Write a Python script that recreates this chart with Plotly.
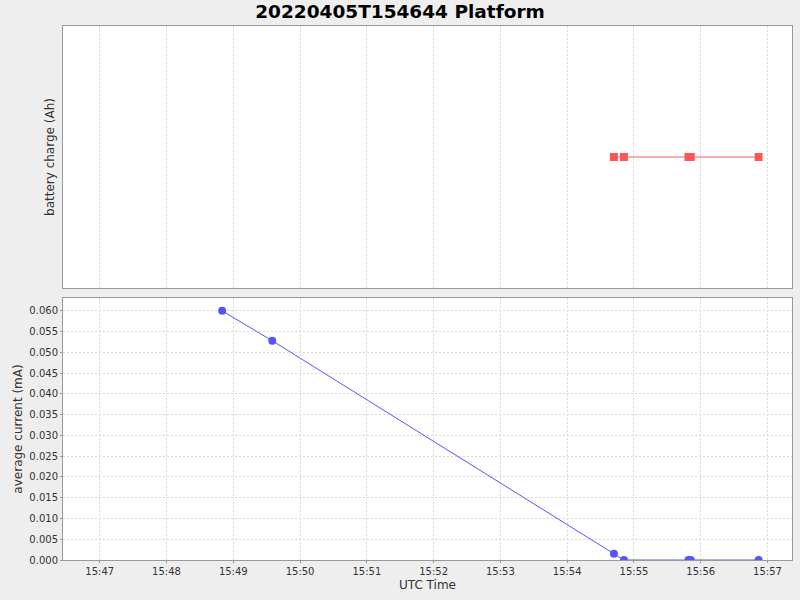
import plotly.graph_objects as go
from plotly.subplots import make_subplots

# sample times (UTC, 2022-04-05)
charge_times = ["2022-04-05 15:54:42", "2022-04-05 15:54:51", "2022-04-05 15:55:49",
                "2022-04-05 15:55:51", "2022-04-05 15:56:52"]
charge_ah = [0.0, 0.0, 0.0, 0.0, 0.0]

current_times = ["2022-04-05 15:48:50", "2022-04-05 15:49:35", "2022-04-05 15:54:42",
                 "2022-04-05 15:54:51", "2022-04-05 15:55:49", "2022-04-05 15:55:51",
                 "2022-04-05 15:56:52"]
current_ma = [0.0600, 0.0528, 0.0015, 0.0, 0.0, 0.0, 0.0]

tick_vals = ["2022-04-05 15:%02d:00" % m for m in range(47, 58)]
tick_text = ["15:%02d" % m for m in range(47, 58)]

fig = make_subplots(rows=2, cols=1, shared_xaxes=True, vertical_spacing=0.0187)

fig.add_trace(go.Scatter(
    x=charge_times, y=charge_ah, mode="lines+markers",
    line=dict(color="#FF5555", width=1),
    marker=dict(symbol="square", size=8, color="#FF5555"),
), row=1, col=1)

fig.add_trace(go.Scatter(
    x=current_times, y=current_ma, mode="lines+markers",
    line=dict(color="#5555FF", width=1),
    marker=dict(symbol="circle", size=8, color="#5555FF"),
), row=2, col=1)

grid = dict(showgrid=True, gridcolor="#D9D9D9", griddash="2px,2px", gridwidth=1,
            showline=True, linecolor="#999999", mirror=True, zeroline=False)

fig.update_xaxes(range=["2022-04-05 15:46:27", "2022-04-05 15:57:22"],
                 tickvals=tick_vals, ticktext=tick_text, ticks="outside",
                 ticklen=2, tickcolor="#999999", **grid)
fig.update_xaxes(showticklabels=False, ticks="", row=1, col=1)
fig.update_xaxes(title=dict(text="UTC Time", font=dict(size=12), standoff=4), row=2, col=1)

fig.update_yaxes(range=[-1, 1], showticklabels=False, ticks="",
                 title=dict(text="battery charge (Ah)", font=dict(size=12), standoff=4),
                 row=1, col=1, **{**grid, "showgrid": False})
fig.update_yaxes(range=[0, 0.0631], dtick=0.005, tickformat=".3f", ticks="outside",
                 ticklen=2, tickcolor="#999999",
                 title=dict(text="average current (mA)", font=dict(size=12), standoff=4),
                 row=2, col=1, **grid)

fig.update_layout(
    width=800, height=600,
    margin=dict(l=63, r=8, t=26, b=40),
    paper_bgcolor="#EEEEEE", plot_bgcolor="white",
    showlegend=False,
    font=dict(family="DejaVu Sans", size=10, color="#333333"),
    title=dict(text="<b>20220405T154644 Platform</b>", x=0.5, xanchor="center",
               y=0.98, yanchor="middle", font=dict(size=18.5, color="black")),
)

fig.write_html("out.html", config={"displayModeBar": False},
               post_script="document.body.style.margin='0';")
